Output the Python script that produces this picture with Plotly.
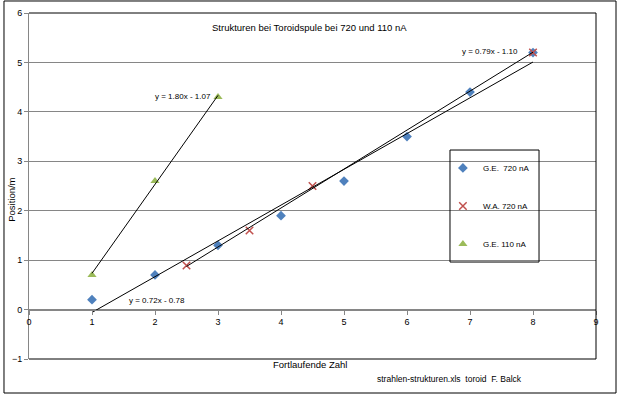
import numpy as np
import plotly.graph_objects as go

# Data
ge720_x = [1, 2, 3, 4, 5, 6, 7, 8]
ge720_y = [0.2, 0.7, 1.3, 1.9, 2.6, 3.5, 4.4, 5.2]
wa720_x = [2.5, 3.5, 4.5, 8]
wa720_y = [0.89, 1.6, 2.5, 5.2]
ge110_x = [1, 2, 3]
ge110_y = [0.7, 2.6, 4.3]

x_ticks = [0, 1, 2, 3, 4, 5, 6, 7, 8, 9]
y_ticks = [-1, 0, 1, 2, 3, 4, 5, 6]

FONT = "Liberation Sans"
fig = go.Figure()

fig.add_trace(go.Scatter(x=ge720_x, y=ge720_y, mode="markers", name="G.E.&nbsp;&nbsp;720 nA",
                         legendgroup="a",
                         marker=dict(symbol="diamond", size=7.5, color="#4F81BD")))
fig.add_trace(go.Scatter(x=wa720_x, y=wa720_y, mode="markers", name="W.A. 720 nA",
                         legendgroup="b",
                         marker=dict(symbol="x-thin-open", size=7.5, color="#C0504D",
                                     line=dict(width=1.5, color="#C0504D"))))
fig.add_trace(go.Scatter(x=ge110_x, y=ge110_y, mode="markers", name="G.E. 110 nA",
                         legendgroup="c",
                         marker=dict(symbol="triangle-up", size=8, color="#9BBB59")))

# Linear trend lines
annots = []
label_pos = [(2.03, 0.19), (7.32, 5.23), (2.44, 4.32)]
for (xs, ys), (lx, ly) in zip([(ge720_x, ge720_y), (wa720_x, wa720_y), (ge110_x, ge110_y)], label_pos):
    m, b = np.polyfit(xs, ys, 1)
    xl = np.array([min(xs), max(xs)])
    fig.add_trace(go.Scatter(x=xl, y=m * xl + b, mode="lines", showlegend=False,
                             line=dict(color="black", width=1), hoverinfo="skip"))
    sign = "-" if b < 0 else "+"
    annots.append(dict(x=lx, y=ly, xref="x", yref="y", showarrow=False,
                       xanchor="center", yanchor="middle",
                       text=f"y = {m:.2f}x {sign} {abs(b):.2f}",
                       font=dict(family=FONT, size=8, color="black")))

# title & axis texts
annots += [
    dict(x=0.494, y=0.9595, xref="paper", yref="paper", showarrow=False,
         xanchor="center", yanchor="middle",
         text="Strukturen bei Toroidspule bei 720 und 110 nA",
         font=dict(family=FONT, size=9.5, color="black")),
    dict(x=-0.03, y=0.46, xref="paper", yref="paper", showarrow=False, textangle=-90,
         xanchor="center", yanchor="middle",
         text="Position/m", font=dict(family=FONT, size=9.5, color="black")),
    dict(x=0.495, y=-0.0173, xref="paper", yref="paper", showarrow=False,
         xanchor="center", yanchor="middle",
         text="Fortlaufende Zahl", font=dict(family=FONT, size=9.5, color="black")),
    dict(x=0.7425, y=-0.0578, xref="paper", yref="paper", showarrow=False,
         xanchor="center", yanchor="middle",
         text="strahlen-strukturen.xls&nbsp;&nbsp;toroid&nbsp;&nbsp;F. Balck",
         font=dict(family=FONT, size=8.5, color="black")),
]

fig.update_layout(
    width=620, height=399,
    margin=dict(l=29, r=24, t=13, b=40),
    paper_bgcolor="white", plot_bgcolor="white",
    font=dict(family=FONT, size=9, color="#111"),
    annotations=annots,
    showlegend=True,
    legend=dict(x=0.730, y=0.594, xanchor="left", yanchor="top",
                bgcolor="rgba(0,0,0,0)", borderwidth=0, tracegroupgap=19,
                font=dict(family=FONT, size=8, color="black")),
    shapes=[
        # plot-area frame (top, right, bottom)
        dict(type="path", xref="paper", yref="paper", path="M 0,1 L 1,1 L 1,0 L 0,0",
             line=dict(color="black", width=1), layer="above"),
        # legend frame
        dict(type="rect", xref="paper", yref="paper", x0=0.7425, x1=0.8995, y0=0.2803, y1=0.604,
             line=dict(color="black", width=1)),
        # outer chart frame
        dict(type="rect", xref="paper", yref="paper", x0=-0.0441, x1=1.0353, y0=-0.0983, y1=1.0347,
             line=dict(color="black", width=1)),
    ],
)
fig.update_xaxes(range=[0, 9], tickvals=x_ticks, showgrid=False, zeroline=False,
                 anchor="free", position=1/7, showline=True, linecolor="#868686",
                 ticks="outside", ticklen=4, tickcolor="#868686", automargin=False,
                 tickfont=dict(family=FONT, size=9, color="black"))
fig.update_yaxes(range=[-1, 6], tickvals=y_ticks, domain=[0, 1], showgrid=True,
                 gridcolor="#868686", gridwidth=1, zeroline=False, showline=True,
                 linecolor="#868686", automargin=False,
                 ticks="outside", ticklen=4, tickcolor="#868686",
                 tickfont=dict(family=FONT, size=9, color="black"))

fig.write_html("out.html", config={"displayModeBar": False},
               post_script="document.body.style.margin='0';document.body.style.padding='0';")
